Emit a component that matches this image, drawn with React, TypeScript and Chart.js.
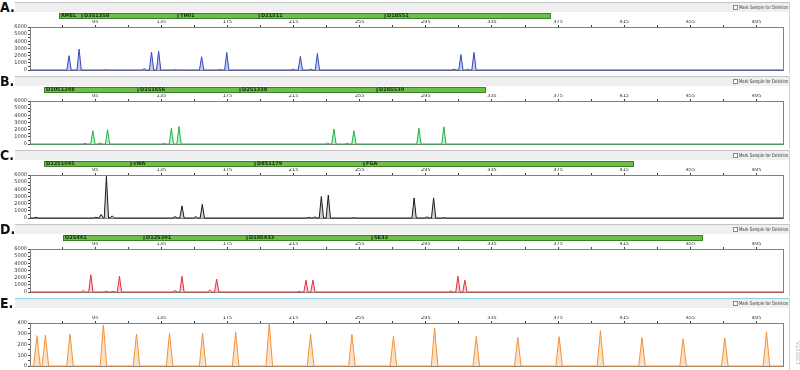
import React, { useEffect, useRef } from 'react';
import { Chart, registerables } from 'chart.js';
Chart.register(...registerables);

// ---- shared axes ----
const X_MIN = 55.6;
const X_MAX = 511;
const xTickValues = [75, 95, 115, 135, 155, 175, 195, 215, 235, 255, 275, 295, 315, 335, 355, 375, 395, 415, 435, 455, 475, 495];
const xTickLabels = [95, 135, 175, 215, 255, 295, 335, 375, 415, 455, 495];
const yTicksRFU = [0, 500, 1000, 1500, 2000, 2500, 3000, 3500, 4000, 4500, 5000, 5500, 6000];
const yLabelsRFU = [0, 1000, 2000, 3000, 4000, 5000, 6000];
const yTicksLadder = [0, 50, 100, 150, 200, 250, 300, 350, 400];
const yLabelsLadder = [0, 100, 200, 300, 400];

// ---- panel A (blue) ----
const aLoci = ['AMEL', 'D3S1358', 'TH01', 'D21S11', 'D18S51'];
const aLociBounds = [73.2, 87.1, 145.3, 193.8, 270.1, 370.8];
const aSizes = [79.2, 85.3, 101.7, 124.7, 129.1, 133.4, 143.5, 159.4, 170.8, 174.6, 214.8, 219.1, 225.3, 229.4, 312, 316.2, 320.3, 324.1];
const aHeights = [2000, 2900, 50, 200, 2500, 2600, 50, 1850, 80, 2450, 100, 1900, 100, 2300, 100, 2150, 100, 2450];

// ---- panel B (green) ----
const bLoci = ['D10S1248', 'D1S1656', 'D2S1338', 'D16S539'];
const bLociBounds = [64.1, 121.1, 182.9, 265.3, 331.4];
const bSizes = [88.9, 93.6, 98, 102.5, 136.8, 141.1, 145.7, 235.4, 239.4, 247.5, 251.5, 290.8, 305.9];
const bHeights = [100, 1850, 150, 2000, 100, 2200, 2450, 150, 2100, 100, 1850, 2200, 2400];

// ---- panel C (black) ----
const cLoci = ['D22S1045', 'vWA', 'D8S1179', 'FGA'];
const cLociBounds = [64.1, 116.8, 191.4, 257.4, 421];
const cSizes = [59.2, 95.4, 98.6, 101.8, 105.3, 143.3, 147.5, 155.8, 159.8, 224.5, 227.9, 231.8, 236, 251.5, 287.9, 295.6, 299.7, 305.9];
const cHeights = [100, 100, 500, 5800, 300, 200, 1700, 200, 1900, 100, 150, 3000, 3200, 50, 2800, 150, 2800, 50];

// ---- panel D (red) ----
const dLoci = ['D2S441', 'D12S391', 'D19S433', 'SE33'];
const dLociBounds = [75.4, 124.7, 186.9, 262.4, 462.8];
const dSizes = [87.9, 92.4, 101.7, 105.7, 109.7, 143.3, 147.5, 164.3, 168.5, 218.5, 222.5, 226.7, 310, 314.4, 318.6];
const dHeights = [200, 2400, 100, 100, 2200, 200, 2200, 300, 1800, 100, 1650, 1650, 150, 2200, 1650];

// ---- panel E (orange, size standard) ----
const eLoci: string[] = [];
const eLociBounds: number[] = [];
const eSizes = [59.8, 64.9, 79.8, 100, 120, 140, 160, 180, 200.3, 225.3, 250.3, 275.4, 300.3, 325.5, 350.6, 375.6, 400.6, 425.7, 450.6, 475.8, 501];
const eHeights = [282, 285, 297, 382, 297, 308, 305, 315, 397, 297, 294, 276, 352, 276, 267, 273, 329, 264, 252, 261, 318];

const panelLetters = ['A.', 'B.', 'C.', 'D.', 'E.'];

type Panel = {
  letter: string;
  color: string;
  fill: string;
  sizes: number[];
  heights: number[];
  loci: string[];
  bounds: number[];
  yMax: number;
  yTicks: number[];
  yLabels: number[];
  halfWidth: number;
  selected: boolean;
};

const panels: Panel[] = [
  { letter: panelLetters[0], color: '#3446b8', fill: 'rgba(120,140,235,0.45)', sizes: aSizes, heights: aHeights, loci: aLoci, bounds: aLociBounds, yMax: 6000, yTicks: yTicksRFU, yLabels: yLabelsRFU, halfWidth: 1.3, selected: false },
  { letter: panelLetters[1], color: '#1fb34a', fill: 'rgba(110,220,140,0.45)', sizes: bSizes, heights: bHeights, loci: bLoci, bounds: bLociBounds, yMax: 6000, yTicks: yTicksRFU, yLabels: yLabelsRFU, halfWidth: 1.3, selected: false },
  { letter: panelLetters[2], color: '#1a1a1a', fill: 'rgba(150,150,150,0.45)', sizes: cSizes, heights: cHeights, loci: cLoci, bounds: cLociBounds, yMax: 6000, yTicks: yTicksRFU, yLabels: yLabelsRFU, halfWidth: 1.3, selected: false },
  { letter: panelLetters[3], color: '#e3303c', fill: 'rgba(245,140,150,0.45)', sizes: dSizes, heights: dHeights, loci: dLoci, bounds: dLociBounds, yMax: 6000, yTicks: yTicksRFU, yLabels: yLabelsRFU, halfWidth: 1.3, selected: false },
  { letter: panelLetters[4], color: '#f2923a', fill: 'rgba(252,205,160,0.6)', sizes: eSizes, heights: eHeights, loci: eLoci, bounds: eLociBounds, yMax: 400, yTicks: yTicksLadder, yLabels: yLabelsLadder, halfWidth: 2, selected: true },
];

const PANEL_H = 74;
const TICK_FONT = { size: 5, family: '"DejaVu Sans", sans-serif' };

function PanelChart({ p, index }: { p: Panel; index: number }) {
  const ref = useRef<HTMLCanvasElement>(null);
  useEffect(() => {
    if (!ref.current) return;
    const pts: { x: number; y: number }[] = [{ x: X_MIN, y: 0 }];
    p.sizes.forEach((s, i) => {
      pts.push({ x: s - p.halfWidth, y: 0 }, { x: s, y: p.heights[i] }, { x: s + p.halfWidth, y: 0 });
    });
    pts.push({ x: X_MAX, y: 0 });

    const plugin = {
      id: 'ephFrame' + index,
      beforeDatasetsDraw(chart: any) {
        const { ctx, chartArea: a } = chart;
        ctx.save();
        ctx.strokeStyle = '#808080';
        ctx.lineWidth = 1;
        ctx.strokeRect(Math.round(a.left) + 0.5, Math.round(a.top) + 0.5, Math.round(a.right - a.left), Math.round(a.bottom - a.top));
        ctx.restore();
      },
      afterDraw(chart: any) {
        const { ctx, chartArea: a } = chart;
        const xs = chart.scales.x;
        ctx.save();
        const top = Math.round(a.top) - 14;
        for (let i = 0; i < p.loci.length; i++) {
          const x1 = Math.round(xs.getPixelForValue(p.bounds[i]));
          const x2 = Math.round(xs.getPixelForValue(p.bounds[i + 1]));
          ctx.fillStyle = '#6cc04a';
          ctx.fillRect(x1, top, x2 - x1, 6);
          ctx.strokeStyle = '#3a7f2a';
          ctx.lineWidth = 1;
          ctx.strokeRect(x1 + 0.5, top + 0.5, x2 - x1 - 1, 5);
          ctx.fillStyle = '#10300a';
          ctx.font = 'bold 5px "DejaVu Sans", sans-serif';
          ctx.textBaseline = 'middle';
          ctx.textAlign = 'left';
          ctx.fillText(p.loci[i], x1 + 2, top + 3.2);
        }
        ctx.restore();
      },
    };

    const chart = new Chart(ref.current, {
      type: 'line',
      data: {
        datasets: [
          {
            data: pts,
            borderColor: p.color,
            backgroundColor: p.fill,
            borderWidth: 1,
            pointRadius: 0,
            tension: 0,
            fill: 'origin',
            clip: false as any,
          },
        ],
      },
      options: {
        animation: false,
        responsive: false,
        devicePixelRatio: 1,
        layout: { padding: { left: 0, right: 17, top: 20, bottom: 3 } },
        plugins: { legend: { display: false }, tooltip: { enabled: false } },
        scales: {
          x: {
            type: 'linear',
            position: 'top',
            min: X_MIN,
            max: X_MAX,
            afterBuildTicks: (axis: any) => {
              axis.ticks = xTickValues.map((v) => ({ value: v }));
            },
            afterFit: (axis: any) => {
              axis.height = 7;
            },
            ticks: {
              autoSkip: false,
              maxRotation: 0,
              padding: 0,
              color: '#333',
              font: TICK_FONT,
              callback: (v: any) => (xTickLabels.includes(Number(v)) ? String(v) : ''),
            },
            grid: { drawOnChartArea: false, drawTicks: true, tickLength: 2, color: '#444' },
            border: { display: true, color: '#666' },
          },
          y: {
            type: 'linear',
            min: 0,
            max: p.yMax,
            afterBuildTicks: (axis: any) => {
              axis.ticks = p.yTicks.map((v) => ({ value: v }));
            },
            afterFit: (axis: any) => {
              axis.width = 30;
            },
            ticks: {
              autoSkip: false,
              padding: 1,
              color: '#333',
              font: TICK_FONT,
              callback: (v: any) => (p.yLabels.includes(Number(v)) ? String(v) : ''),
            },
            grid: { drawOnChartArea: false, drawTicks: true, tickLength: 2, color: '#444' },
            border: { display: true, color: '#666' },
          },
        },
      } as any,
      plugins: [plugin],
    });
    return () => chart.destroy();
  }, [p, index]);

  const top = index * PANEL_H;
  return (
    <>
      <div
        style={{
          position: 'absolute',
          left: 0,
          top: top,
          font: 'bold 14px "Liberation Sans Narrow", "DejaVu Sans Condensed", sans-serif',
          lineHeight: '14px',
          color: '#111',
        }}
      >
        {p.letter}
      </div>
      <div
        style={{
          position: 'absolute',
          left: 15,
          top: top + 2,
          width: 775,
          height: 9,
          background: '#efefef',
          borderTop: p.selected ? '1.5px solid #8fd3e3' : '1.5px solid #c4c4c4',
        }}
      />
      <div
        style={{
          position: 'absolute',
          left: 789,
          top: top + 2,
          width: 1,
          height: PANEL_H - 2,
          background: '#d0d0d0',
        }}
      />
      <div
        style={{
          position: 'absolute',
          left: 733,
          top: top + 5,
          width: 3,
          height: 3,
          border: '0.8px solid #888',
          background: '#fff',
        }}
      />
      <div
        style={{
          position: 'absolute',
          left: 739,
          top: top + 4,
          font: '5px "Liberation Sans Narrow", "DejaVu Sans Condensed", sans-serif',
          lineHeight: '6px',
          color: '#333',
          whiteSpace: 'nowrap',
          transform: 'scaleX(0.86)',
          transformOrigin: 'left center',
        }}
      >
        Mark Sample for Deletion
      </div>
      <canvas
        ref={ref}
        width={800}
        height={PANEL_H}
        style={{ position: 'absolute', left: 0, top: top, width: 800, height: PANEL_H }}
      />
    </>
  );
}

export default function App() {
  return (
    <div
      style={{
        position: 'fixed',
        left: 0,
        top: 0,
        width: 800,
        height: 370,
        background: '#fff',
        overflow: 'hidden',
      }}
    >
      {panels.map((p, i) => (
        <PanelChart key={i} p={p} index={i} />
      ))}
      <div
        style={{
          position: 'absolute',
          left: 780,
          top: 350,
          width: 36,
          height: 6,
          transform: 'rotate(-90deg)',
          transformOrigin: 'center',
          font: '6px "Liberation Sans Narrow", sans-serif',
          lineHeight: '6px',
          color: '#bbb',
          textAlign: 'center',
        }}
      >
        13556TA
      </div>
    </div>
  );
}
